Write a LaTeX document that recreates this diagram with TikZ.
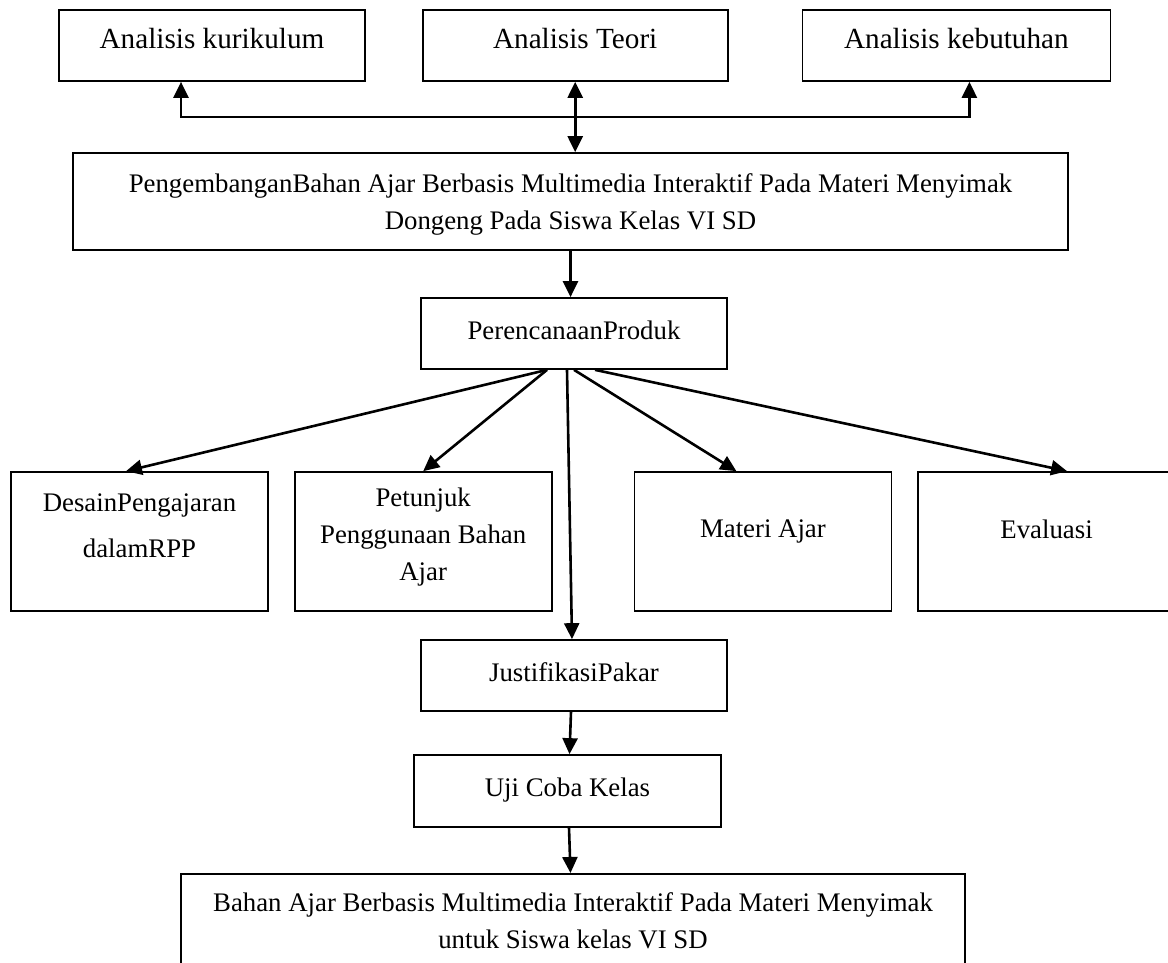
\documentclass[tikz,border=0pt]{standalone}
\usepackage{fontspec}
\setmainfont{Liberation Serif}
\usetikzlibrary{positioning,arrows.meta}

\tikzset{
  kotak/.style={rectangle,draw,line width=1.7pt,inner sep=0pt,align=center,
    font=\fontsize{26.8pt}{37pt}\selectfont},
  besar/.style={font=\fontsize{29.2pt}{37pt}\selectfont},
  panah/.style={-{Triangle[length=16pt,width=15pt]},line width=2.6pt},
  panahdua/.style={{Triangle[length=16pt,width=15pt]}-{Triangle[length=16pt,width=15pt]},line width=2.6pt},
}

\begin{document}
\begin{tikzpicture}[x=1pt,y=-1pt]
  \useasboundingbox (0,0) rectangle (1168,963);
  \clip (0,0) rectangle (1168,963);
  % analisis
  \node(kurikulum)[kotak,besar,minimum width=306pt,minimum height=71pt,text depth=15pt] at (212,45.5){Analisis kurikulum};
  \node(teori)[kotak,besar,minimum width=305pt,minimum height=71pt,text depth=15pt,right =56pt of kurikulum]{Analisis Teori};
  \node(kebutuhan)[kotak,besar,minimum width=308pt,minimum height=71pt,text depth=15pt,right =73pt of teori]{Analisis kebutuhan};
  \node(pengembangan)[kotak,minimum width=995pt,minimum height=97pt,text depth=0pt] at (570.5,201.5)
    {PengembanganBahan Ajar Berbasis Multimedia Interaktif Pada Materi Menyimak\\Dongeng Pada Siswa Kelas VI SD};
  \node(perencanaan)[kotak,minimum width=306pt,minimum height=71pt,text depth=7pt] at (574,333.5){PerencanaanProduk};
  % produk
  \node(desain)[kotak,minimum width=257pt,minimum height=139pt,text depth=32pt] at (139.5,541.5){DesainPengajaran\\[9pt]dalamRPP};
  \node(petunjuk)[kotak,minimum width=257pt,minimum height=139pt,text depth=15pt,right =25pt of desain]{Petunjuk\\Penggunaan Bahan\\Ajar};
  \node(materi)[kotak,minimum width=257pt,minimum height=139pt,text depth=25pt,right =81pt of petunjuk]{Materi Ajar};
  \node(evaluasi)[kotak,minimum width=257pt,minimum height=139pt,text depth=25pt,right =25pt of materi]{Evaluasi};
  % uji
  \node(justifikasi)[kotak,minimum width=306pt,minimum height=71pt,text depth=7pt] at (574,675.5){JustifikasiPakar};
  \node(ujicoba)[kotak,minimum width=307pt,minimum height=72pt,text depth=8pt] at (567.5,791){Uji Coba Kelas};
  \node(hasil)[kotak,minimum width=784pt,minimum height=100pt,text depth=7pt,anchor=north] at (573,873)
    {Bahan Ajar Berbasis Multimedia Interaktif Pada Materi Menyimak\\untuk Siswa kelas VI SD};
  \coordinate(simpang) at (573.5,117);
\draw[panah](simpang) -| ([xshift=-31pt]kurikulum.south);
\draw[panah](simpang) -| ([xshift=13pt]kebutuhan.south);
\draw[panahdua](teori.south) -- (teori.south |- pengembangan.north);
\draw[panah](pengembangan.south) -- (pengembangan.south |- perencanaan.north);
\draw[panah]([xshift=-27pt]perencanaan.south) -- ([xshift=-13.5pt]desain.north);
\draw[panah]([xshift=-27pt]perencanaan.south) -- (petunjuk.north);
\draw[panah]([xshift=-7pt]perencanaan.south) -- ([xshift=-2pt]justifikasi.north);
\draw[panah](perencanaan.south) -- ([xshift=-26.5pt]materi.north);
\draw[panah]([xshift=21pt]perencanaan.south) -- ([xshift=20.5pt]evaluasi.north);
\draw[panah]([xshift=-3pt]justifikasi.south) -- ([xshift=2pt]ujicoba.north);
\draw[panah]([xshift=1.5pt]ujicoba.south) -- ([xshift=-2.5pt]hasil.north);
\end{tikzpicture}
\end{document}
